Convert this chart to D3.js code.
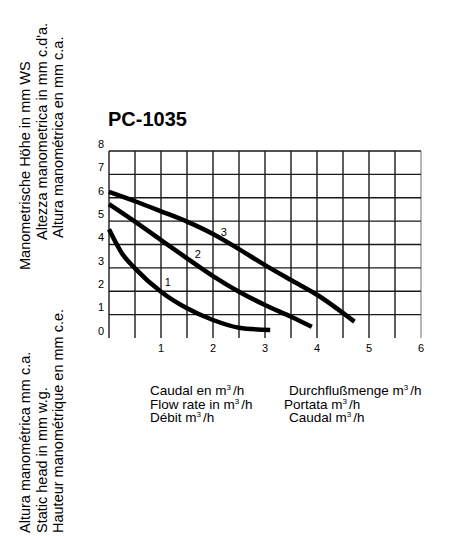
<!DOCTYPE html>
<meta charset="utf-8">
<style>
body { margin: 0; background: #fff; }
text { font-family: "Liberation Sans", Arial, Helvetica, sans-serif; fill: #000; }
.grid line { stroke: #1a1a1a; stroke-width: 1.4px; }
.curve { fill: none; stroke: #000; stroke-width: 4.5px; stroke-linecap: butt; }
</style>
<svg width="457" height="536"></svg>
<script src="https://cdn.jsdelivr.net/npm/d3@7"></script>
<script>

// pump curves PC-1035 (flow m3/h, head mm)
var flow1 = [0, 0.25, 0.5, 1, 1.5, 2, 2.5, 3.1],
    head1 = [4.65, 3.62, 2.98, 1.98, 1.27, 0.77, 0.44, 0.34];
var flow2 = [0, 0.5, 1, 1.5, 2, 2.5, 3, 3.5, 3.9],
    head2 = [5.73, 4.98, 4.19, 3.41, 2.65, 1.98, 1.41, 0.91, 0.48];
var flow3 = [0, 0.5, 1, 1.5, 2, 2.5, 3, 3.5, 4, 4.72],
    head3 = [6.25, 5.85, 5.42, 4.98, 4.45, 3.8, 3.12, 2.48, 1.85, 0.7];
var curveNames = ["1", "2", "3"],
    labelFlow = [1.13, 1.71, 2.21],
    labelHead = [2.41, 3.59, 4.52];

var xTicks = [1, 2, 3, 4, 5, 6],
    yTicks = [0, 1, 2, 3, 4, 5, 6, 7, 8];

var title = "PC-1035";
var headTitleTop = ["Manometrische Höhe in mm WS", "Altezza manometrica in mm c.d'a.", "Altura manométrica en mm c.a."],
    headTitleBottom = ["Altura manométrica mm c.a.", "Static head in mm w.g.", "Hauteur manométrique en mm c.e."];
var flowTitleLeft = ["Caudal en m", "Flow rate in m", "Débit  m"],
    flowTitleRight = ["Durchflußmenge m", "Portata m", "Caudal m"];

var svg = d3.select("svg");

var x = d3.scaleLinear().domain([0, 6]).range([109, 421]),
    y = d3.scaleLinear().domain([0, 8]).range([338, 151]);

// grid
var grid = svg.append("g").attr("class", "grid");
grid.selectAll(".v")
    .data(d3.range(0, 6.01, 0.5))
    .enter().append("line")
    .attr("x1", function(d) { return x(d); })
    .attr("x2", function(d) { return x(d); })
    .attr("y1", y(8))
    .attr("y2", y(0))
    .style("stroke", function(d) { return d === 6 ? "#999" : null; });
grid.selectAll(".h")
    .data(d3.range(1, 9))
    .enter().append("line")
    .attr("x1", x(0))
    .attr("x2", x(6))
    .attr("y1", function(d) { return y(d); })
    .attr("y2", function(d) { return y(d); });

// tick labels
svg.selectAll(".ylab")
    .data(yTicks)
    .enter().append("text")
    .attr("x", 104)
    .attr("y", function(d) { return y(d) - 7; })
    .attr("dy", "0.35em")
    .attr("text-anchor", "end")
    .style("font-size", "11px")
    .text(function(d) { return d; });

svg.selectAll(".xlab")
    .data(xTicks)
    .enter().append("text")
    .attr("x", function(d) { return x(d); })
    .attr("y", 352)
    .attr("text-anchor", "middle")
    .style("font-size", "11px")
    .text(function(d) { return d; });

// curves
var line = d3.line()
    .x(function(d) { return x(d[0]); })
    .y(function(d) { return y(d[1]); })
    .curve(d3.curveMonotoneX);

[[flow1, head1], [flow2, head2], [flow3, head3]].forEach(function(s) {
  svg.append("path")
      .attr("class", "curve")
      .attr("d", line(d3.zip(s[0], s[1])));
});

svg.selectAll(".clab")
    .data(curveNames)
    .enter().append("text")
    .attr("x", function(d, i) { return x(labelFlow[i]); })
    .attr("y", function(d, i) { return y(labelHead[i]); })
    .attr("dy", "0.35em")
    .attr("text-anchor", "middle")
    .style("font-size", "11px")
    .text(function(d) { return d; });

// title
svg.append("text")
    .attr("x", 108)
    .attr("y", 126)
    .style("font-size", "20px")
    .style("font-weight", "bold")
    .text(title);

// vertical axis titles
function rotated(lines, y0) {
  lines.forEach(function(t, i) {
    svg.append("text")
        .attr("transform", "translate(" + (30 + i * 16.5) + "," + y0[i] + ") rotate(-90)")
        .style("font-size", "14.5px")
        .text(t);
  });
}
rotated(headTitleTop, [270, 240, 238]);
rotated(headTitleBottom, [533, 533, 533]);

// flow titles with superscript
function flowText(lines, x0) {
  lines.forEach(function(t, i) {
    var tx = svg.append("text")
        .attr("x", x0[i])
        .attr("y", 395 + i * 13.6)
        .style("font-size", "13.5px");
    tx.append("tspan").text(t);
    tx.append("tspan").attr("dy", -5).style("font-size", "8px").text("3");
    tx.append("tspan").attr("dy", 5).attr("dx", 2).text("/h");
  });
}
flowText(flowTitleLeft, [150, 150, 150]);
flowText(flowTitleRight, [289, 284, 289]);

</script>
